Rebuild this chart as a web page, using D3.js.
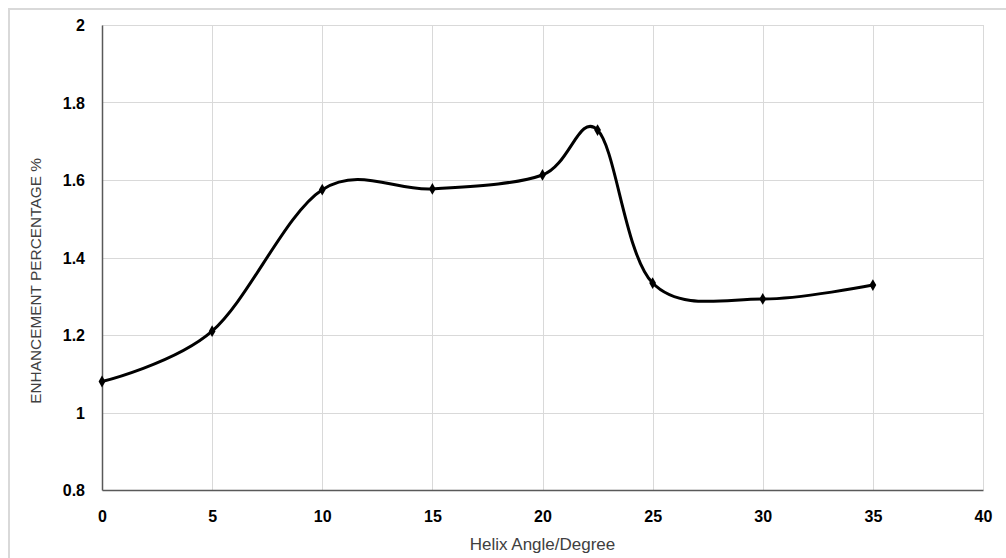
<!DOCTYPE html>
<html><head><meta charset="utf-8">
<script src="https://cdn.jsdelivr.net/npm/d3@7"></script>
<style>body{margin:0;background:#fff}svg{display:block}</style>
</head><body>
<svg id="c" width="1006" height="558"></svg>
<script>
const xValues = [0, 5, 10, 15, 20, 22.5, 25, 30, 35];
const yValues = [1.08, 1.21, 1.575, 1.577, 1.613, 1.729, 1.334, 1.293, 1.329];
const xTicks = [0, 5, 10, 15, 20, 25, 30, 35, 40];
const yTicks = [0.8, 1, 1.2, 1.4, 1.6, 1.8, 2];
const xTitle = "Helix Angle/Degree";
const yTitle = "ENHANCEMENT PERCENTAGE %";

const svg = d3.select("#c");
svg.append("rect").attr("x",9).attr("y",9).attr("width",1010).attr("height",560)
  .attr("fill","#fff").attr("stroke","#d9d9d9").attr("stroke-width",2);

const x = d3.scaleLinear().domain([0,40]).range([102,983]);
const y = d3.scaleLinear().domain([0.8,2]).range([490,25]);

const g = svg.append("g");
g.selectAll(".hg").data(yTicks.filter(d=>d>0.8)).enter().append("line")
  .attr("x1",x(0)).attr("x2",x(40)).attr("y1",d=>Math.round(y(d))+0.5).attr("y2",d=>Math.round(y(d))+0.5)
  .attr("stroke","#d9d9d9").attr("stroke-width",1);
g.selectAll(".vg").data(xTicks.filter(d=>d>0)).enter().append("line")
  .attr("y1",y(0.8)).attr("y2",y(2)).attr("x1",d=>Math.round(x(d))+0.5).attr("x2",d=>Math.round(x(d))+0.5)
  .attr("stroke","#d9d9d9").attr("stroke-width",1);

const xAxis = d3.axisBottom(x).tickValues(xTicks).tickSize(0).tickPadding(19).tickFormat(d3.format("d"));
const yAxis = d3.axisLeft(y).tickValues(yTicks).tickSize(0).tickPadding(17).tickFormat(d=>String(+d.toFixed(1)));
const gx = svg.append("g").attr("transform",`translate(0,${y(0.8)})`).call(xAxis);
const gy = svg.append("g").attr("transform",`translate(${x(0)},0)`).call(yAxis);
gx.select(".domain").attr("stroke","#595959").attr("stroke-width",1.5);
gy.select(".domain").attr("stroke","#595959").attr("stroke-width",1.5);
[gx,gy].forEach(a=>a.selectAll("text").attr("font-family","'Liberation Sans', Arial, sans-serif")
  .attr("font-size",16).attr("font-weight","bold").attr("fill","#000"));
gy.selectAll("text").attr("dy","0.35em");
gx.selectAll("text").attr("dy","0.35em").attr("y",26);

const line = d3.line().x((d,i)=>x(xValues[i])).y(d=>y(d)).curve(d3.curveCatmullRom.alpha(0));
svg.append("path").datum(yValues).attr("d",line).attr("fill","none")
  .attr("stroke","#000").attr("stroke-width",3).attr("stroke-linejoin","round");

svg.selectAll(".m").data(yValues).enter().append("path")
  .attr("d",d3.symbol().type(d3.symbolDiamond).size(40))
  .attr("transform",(d,i)=>`translate(${x(xValues[i])},${y(d)})`).attr("fill","#000");

svg.append("text").attr("x",(x(0)+x(40))/2).attr("y",550).attr("text-anchor","middle")
  .attr("font-family","'Liberation Sans', Arial, sans-serif").attr("font-size",17).attr("fill","#404040").text(xTitle);
svg.append("text").attr("transform",`translate(36,281) rotate(-90)`).attr("text-anchor","middle")
  .attr("dy","0.35em")
  .attr("font-family","'Liberation Sans', Arial, sans-serif").attr("font-size",15.4).attr("fill","#404040").text(yTitle);
</script>
</body></html>
